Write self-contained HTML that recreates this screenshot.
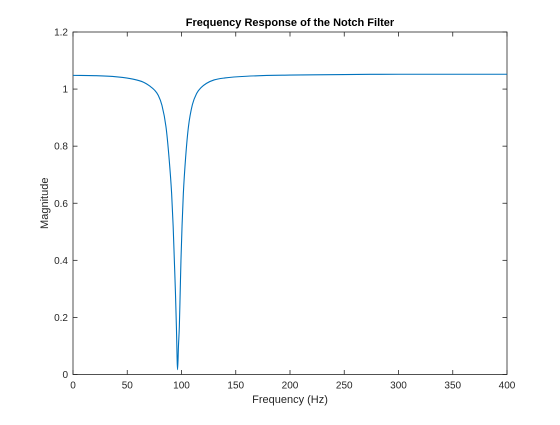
<!DOCTYPE html>
<html><head><meta charset="utf-8"><style>
body{margin:0;background:#fff}
svg text{font-family:"Liberation Sans",Helvetica,sans-serif}
</style></head><body>
<svg id="chart" width="560" height="420" xmlns="http://www.w3.org/2000/svg">
<rect width="560" height="420" fill="#fff"/>
<g id="g"></g>
</svg>
<script>
const freqs=[0,20,40,55,65,71,75,78.6,82,85.7,88.5,90.9,92.3,93.4,94.4,95.3,96.4,97.2,98,98.8,99.5,100.5,101.7,103.8,106.4,110,114,118,123,130,140,160,200,250,300,400];
const mags=[1.048,1.047,1.043,1.035,1.024,1.010,0.997,0.978,0.943,0.868,0.76,0.634,0.52,0.40,0.29,0.167,0.017,0.10,0.167,0.29,0.40,0.52,0.634,0.76,0.868,0.945,0.985,1.005,1.02,1.032,1.039,1.045,1.049,1.051,1.052,1.052];
const xTicks=[0,50,100,150,200,250,300,350,400];
const yTicks=[0,0.2,0.4,0.6,0.8,1,1.2];
const L=73,R=507,T=32,B=374.5;
const xs=v=>L+(v-0)/400*(R-L);
const ys=v=>B-(v/1.2)*(B-T);
const g=document.getElementById('g');
const NS='http://www.w3.org/2000/svg';
function mk(t,a,txt){const e=document.createElementNS(NS,t);for(const k in a)e.setAttribute(k,a[k]);if(txt!==undefined)e.textContent=txt;g.appendChild(e);return e;}
let box=mk('rect',{x:L,y:T,width:R-L,height:B-T,fill:'none',stroke:'#262626','stroke-width':0.8});


xTicks.forEach(v=>{const x=xs(v);
let t1=mk('line',{x1:x,x2:x,y1:B,y2:B-4.5,stroke:'#262626','stroke-width':0.8});


let t2=mk('line',{x1:x,x2:x,y1:T,y2:T+4.5,stroke:'#262626','stroke-width':0.8});


let lb=mk('text',{x:x,y:B+14,'font-size':10,'text-anchor':'middle',fill:'#262626'},String(v));

});
yTicks.forEach(v=>{const y=ys(v);
let t1=mk('line',{x1:L,x2:L+4.5,y1:y,y2:y,stroke:'#262626','stroke-width':0.8});


let t2=mk('line',{x1:R,x2:R-4.5,y1:y,y2:y,stroke:'#262626','stroke-width':0.8});


let lb=mk('text',{x:L-5,y:y+3.5,'font-size':10,'text-anchor':'end',fill:'#262626'},String(v));

});
// monotone cubic path through data points
const px=freqs.map(xs), py=mags.map(ys), n=px.length;
const dx=[],m=[];for(let i=0;i<n-1;i++){dx.push(px[i+1]-px[i]);m.push((py[i+1]-py[i])/dx[i]);}
const t=[m[0]];for(let i=1;i<n-1;i++){t.push(m[i-1]*m[i]<=0?0:(m[i-1]+m[i])/2);}t.push(m[n-2]);
for(let i=0;i<n-1;i++){if(m[i]===0){t[i]=0;t[i+1]=0;continue;}const a=t[i]/m[i],b=t[i+1]/m[i],s=a*a+b*b;if(s>9){const k=3/Math.sqrt(s);t[i]=k*a*m[i];t[i+1]=k*b*m[i];}}
let d='M'+px[0].toFixed(2)+','+py[0].toFixed(2);
for(let i=0;i<n-1;i++){const h=dx[i]/3;d+=' C'+(px[i]+h).toFixed(2)+','+(py[i]+t[i]*h).toFixed(2)+' '+(px[i+1]-h).toFixed(2)+','+(py[i+1]-t[i+1]*h).toFixed(2)+' '+px[i+1].toFixed(2)+','+py[i+1].toFixed(2);}
let p=mk('path',{d:d,fill:'none',stroke:'#0072bd','stroke-width':1.1,'stroke-linejoin':'round'});


let ti=mk('text',{x:(L+R)/2,y:26,'font-size':11,'font-weight':'bold','text-anchor':'middle',fill:'#000'},'Frequency Response of the Notch Filter');


let xl=mk('text',{x:(L+R)/2,y:403,'font-size':11,'text-anchor':'middle',fill:'#262626'},'Frequency (Hz)');


let yl=mk('text',{x:0,y:0,'font-size':11,'text-anchor':'middle',fill:'#262626',transform:'translate(48,'+((T+B)/2)+') rotate(-90)'},'Magnitude');


</script>
</body></html>
